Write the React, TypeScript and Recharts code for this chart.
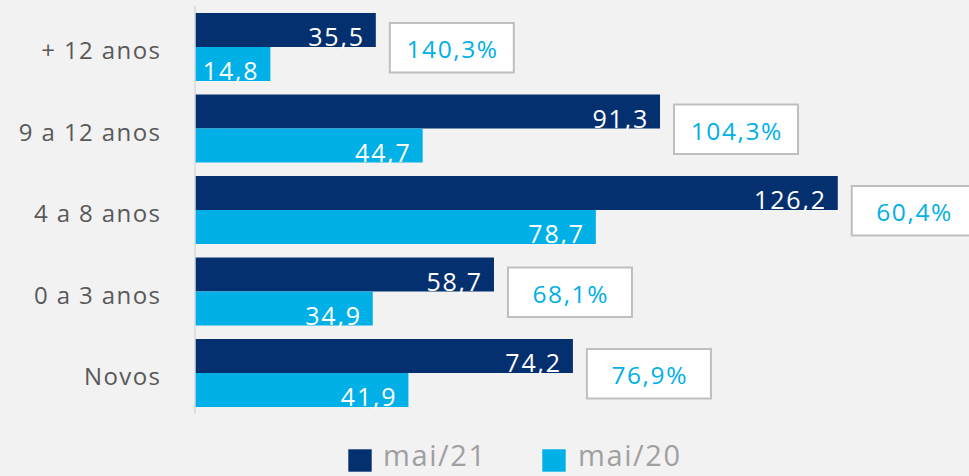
import React from 'react';
import { BarChart, Bar, XAxis, YAxis, LabelList } from 'recharts';

const categories = ['+ 12 anos', '9 a 12 anos', '4 a 8 anos', '0 a 3 anos', 'Novos'];
const mai21 = [35.5, 91.3, 126.2, 58.7, 74.2];
const mai20 = [14.8, 44.7, 78.7, 34.9, 41.9];
const growth = [140.3, 104.3, 60.4, 68.1, 76.9];
const seriesNames = ['mai/21', 'mai/20'];

const data = categories.map((name, i) => ({
  name,
  mai21: mai21[i],
  mai20: mai20[i],
  growth: growth[i],
}));

const DARK = '#05306F';
const CYAN = '#00B0E6';
const FONT = '"Open Sans", Lato, sans-serif';

const fmt = (v: number) => v.toFixed(1).replace('.', ',');

const ValueLabel = (props: any) => {
  const { x, y, width, height, value } = props;
  return (
    <text
      x={x + width - 11}
      y={y + height - 1}
      textAnchor="end"
      fill="#FFFFFF"
      fontSize={25}
      letterSpacing={1.8}
      fontFamily={FONT}
    >
      {fmt(value)}
    </text>
  );
};

const GrowthBox = (props: any) => {
  const { x, y, width, value } = props;
  const bx = x + width + 14;
  const by = y + 10;
  const bw = 124;
  const bh = 49.5;
  return (
    <g>
      <rect x={bx} y={by} width={bw} height={bh} fill="#FFFFFF" stroke="#BFBFBF" strokeWidth={2} />
      <text
        x={bx + bw / 2 + 0.8}
        y={by + 35}
        textAnchor="middle"
        fill={CYAN}
        fontSize={24.5}
        letterSpacing={1.6}
        fontFamily={FONT}
      >
        {fmt(value) + '%'}
      </text>
    </g>
  );
};

const CategoryTick = (props: any) => {
  const { x, y, payload } = props;
  return (
    <text x={x + 1.4} y={y} dy={12.5} textAnchor="end" fill="#595959" fontSize={24} letterSpacing={1.4} fontFamily={FONT}>
      {payload.value}
    </text>
  );
};

const colors = [DARK, CYAN];

export default function App() {
  return (
    <div style={{ position: 'absolute', left: 0, top: 0, width: 969, height: 476, background: '#F2F2F2', overflow: 'hidden' }}>
      <BarChart
        width={969}
        height={476}
        data={data}
        layout="vertical"
        margin={{ top: 6, right: 10, bottom: 62.5, left: 0 }}
        barCategoryGap={7}
        barGap={0}
      >
        <XAxis type="number" domain={[0, 150]} hide />
        <YAxis
          type="category"
          dataKey="name"
          width={195}
          axisLine={{ stroke: '#D9D9D9', strokeWidth: 1.5 }}
          tickLine={false}
          tickSize={0}
          tickMargin={35}
          tick={<CategoryTick />}
          interval={0}
        />
        <Bar dataKey="mai21" fill={DARK} isAnimationActive={false}>
          <LabelList dataKey="mai21" content={<ValueLabel />} />
          <LabelList dataKey="growth" content={<GrowthBox />} />
        </Bar>
        <Bar dataKey="mai20" fill={CYAN} isAnimationActive={false}>
          <LabelList dataKey="mai20" content={<ValueLabel />} />
        </Bar>
      </BarChart>
      <svg width={400} height={38} style={{ position: 'absolute', left: 340, top: 436 }}>
        {seriesNames.map((n, i) => (
          <g key={n}>
            <rect x={8.3 + i * 194} y={13.3} width={23.4} height={22.4} fill={colors[i]} />
            <text x={43 + i * 195} y={30} fill="#A0A0A0" fontSize={29} letterSpacing={1.6} fontFamily={FONT}>
              {n}
            </text>
          </g>
        ))}
      </svg>
    </div>
  );
}
